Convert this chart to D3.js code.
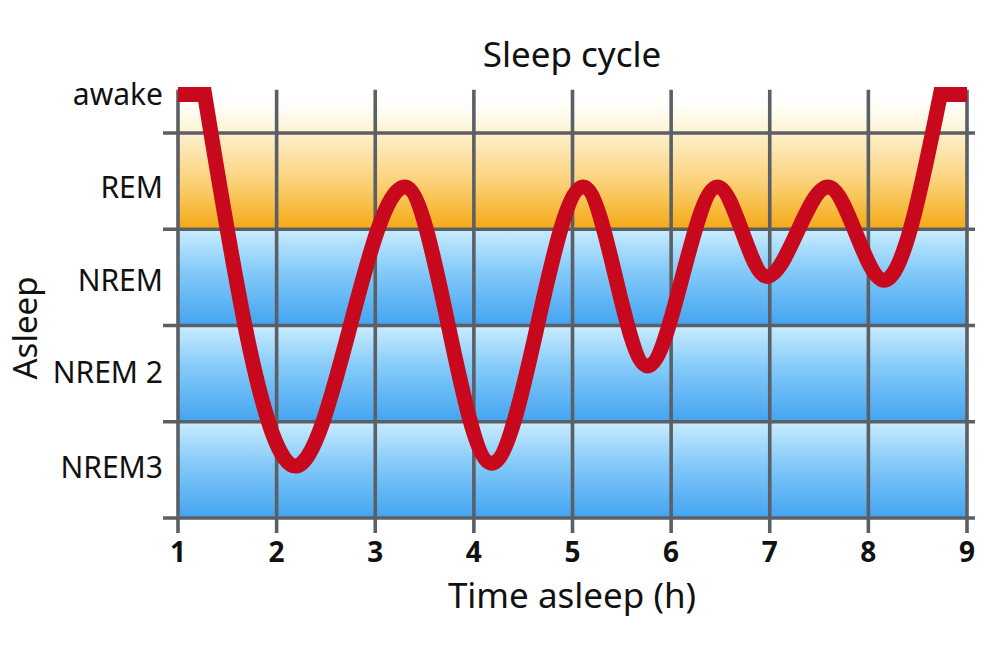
<!DOCTYPE html>
<html>
<head>
<meta charset="utf-8">
<script src="https://cdn.jsdelivr.net/npm/d3@7"></script>
<style>
  html, body { margin: 0; padding: 0; background: #ffffff; }
  svg { display: block; }
  text { font-family: "Noto Sans", "Open Sans", sans-serif; fill: #111; }
</style>
</head>
<body>
<svg id="chart" width="1000" height="667"></svg>
<script>
// ---- data ----
const hourTicks = [1, 2, 3, 4, 5, 6, 7, 8, 9];
const stageLabels = ["awake", "REM", "NREM", "NREM 2", "NREM3"];
const stageLabelDepth = [-0.4, 0.56, 1.53, 2.49, 3.47];
const stageBounds = [0, 1, 2, 3, 4];
const awakeLevel = -0.4;

// hypnogram turning points: time (h) and depth (0 = top of REM band, 4 = bottom of NREM3)
const startAwake = [1.0, 1.27];
const curveHours = [1.27, 2.19, 3.30, 4.18, 5.11, 5.76, 6.47, 6.97, 7.59, 8.16, 8.73];
const curveDepth = [-0.4, 3.46, 0.56, 3.43, 0.56, 2.42, 0.56, 1.49, 0.56, 1.53, -0.4];
const endAwake = [8.73, 9.0];

const svg = d3.select("#chart");
const x = d3.scaleLinear().domain([1, 9]).range([178, 967]);
const y = d3.scaleLinear().domain([0, 4]).range([133, 518]);

// ---- gradients ----
const defs = svg.append("defs");
function grad(id, stops) {
  const g = defs.append("linearGradient").attr("id", id)
    .attr("x1", 0).attr("y1", 0).attr("x2", 0).attr("y2", 1);
  stops.forEach(s => g.append("stop").attr("offset", s[0]).attr("stop-color", s[1]));
}
grad("gAwake", [[0, "#ffffff"], [0.35, "#fffefa"], [1, "#fdf3d2"]]);
grad("gRem", [[0, "#fdf0cd"], [0.5, "#fbd27a"], [1, "#f5a915"]]);
grad("gBlue", [[0, "#c9ecfd"], [0.45, "#82c9f9"], [1, "#44a4f0"]]);

// ---- bands ----
svg.append("rect")
  .attr("x", x(1)).attr("width", x(9) - x(1))
  .attr("y", y(-0.45)).attr("height", y(0) - y(-0.45))
  .attr("fill", "url(#gAwake)");
svg.selectAll("rect.band")
  .data(d3.range(stageBounds.length - 1))
  .join("rect").attr("class", "band")
  .attr("x", x(1)).attr("width", x(9) - x(1))
  .attr("y", i => y(stageBounds[i]))
  .attr("height", i => y(stageBounds[i + 1]) - y(stageBounds[i]))
  .attr("fill", i => i === 0 ? "url(#gRem)" : "url(#gBlue)");

// ---- grid ----
const gridColor = "#5b5f66";
svg.selectAll("line.vgrid")
  .data(hourTicks).join("line").attr("class", "vgrid")
  .attr("x1", d => x(d)).attr("x2", d => x(d))
  .attr("y1", y(-0.45)).attr("y2", y(4) + 15)
  .attr("stroke", gridColor).attr("stroke-width", 3.6);
svg.selectAll("line.hgrid")
  .data(stageBounds).join("line").attr("class", "hgrid")
  .attr("x1", x(1) - 15).attr("x2", x(9) + 8)
  .attr("y1", d => y(d)).attr("y2", d => y(d))
  .attr("stroke", gridColor).attr("stroke-width", 3.6);

// ---- hypnogram line ----
const lin = d3.line().x(d => x(d[0])).y(d => y(d[1]));
const smooth = d3.line().x(d => x(d[0])).y(d => y(d[1])).curve(d3.curveMonotoneX);
const pStart = lin(startAwake.map(h => [h, awakeLevel]));
const pMid = smooth(curveHours.map((h, i) => [h, curveDepth[i]])).replace(/^M/, "L");
const pEnd = lin(endAwake.map(h => [h, awakeLevel])).replace(/^M/, "L");
svg.append("path")
  .attr("d", pStart + pMid + pEnd)
  .attr("fill", "none")
  .attr("stroke", "#c8091d")
  .attr("stroke-width", 15)
  .attr("stroke-linejoin", "miter")
  .attr("stroke-linecap", "butt");

// ---- stage labels ----
svg.selectAll("text.stage")
  .data(stageLabels).join("text").attr("class", "stage")
  .attr("x", x(1) - 15)
  .attr("y", (d, i) => y(stageLabelDepth[i]))
  .attr("dy", "0.36em")
  .attr("text-anchor", "end")
  .style("font-size", "30px")
  .text(d => d);

// ---- x tick labels ----
svg.selectAll("text.tick")
  .data(hourTicks).join("text").attr("class", "tick")
  .attr("x", d => x(d))
  .attr("y", 562)
  .attr("text-anchor", "middle")
  .style("font-size", "28px")
  .style("font-weight", "bold")
  .text(d => d);

// ---- titles ----
svg.append("text")
  .attr("x", 572).attr("y", 67)
  .attr("text-anchor", "middle")
  .style("font-size", "35px")
  .text("Sleep cycle");
svg.append("text")
  .attr("x", 572).attr("y", 608)
  .attr("text-anchor", "middle")
  .style("font-size", "35px")
  .text("Time asleep (h)");
svg.append("text")
  .attr("transform", "translate(37,328) rotate(-90)")
  .attr("text-anchor", "middle")
  .style("font-size", "33px")
  .text("Asleep");
</script>
</body>
</html>
